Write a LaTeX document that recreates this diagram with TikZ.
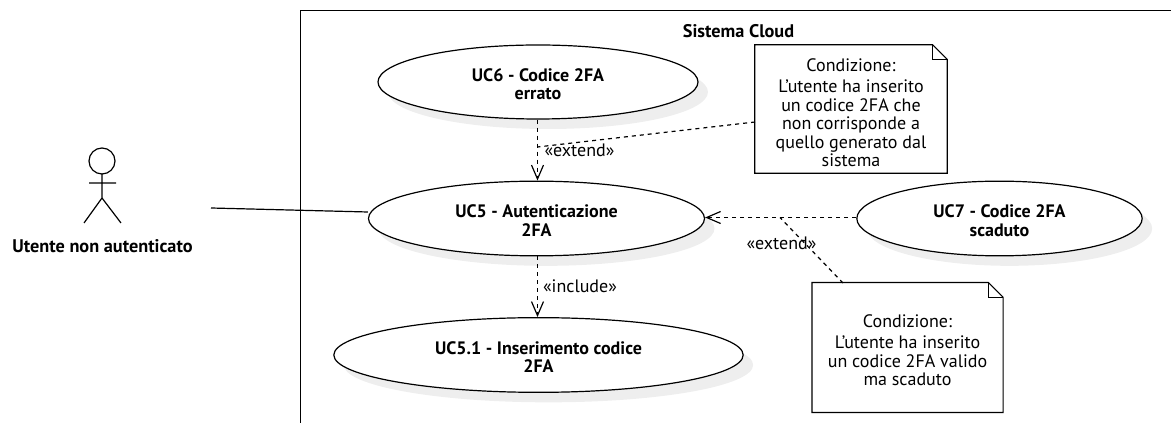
\documentclass[tikz,border=0pt]{standalone}
\usepackage{fontspec}
\setmainfont{PT Sans}
\usetikzlibrary{arrows.meta,shapes.geometric,shadows}
\definecolor{shadowgray}{HTML}{EEEEEE}
\newcommand{\ucstrut}{\rule{0pt}{13pt}}
\tikzset{
  ink/.style={line width=0.9pt,draw=black},
  usecase/.style={ink,ellipse,fill=white,inner sep=0pt,align=center,font=\fontsize{13.5}{13.9}\selectfont\bfseries,
    drop shadow={shadow xshift=7.5pt,shadow yshift=-7.5pt,fill=shadowgray,opacity=1}},
  notebox/.style={rectangle,inner sep=0pt,align=center,font=\fontsize{13.5}{13.9}\selectfont},
  dep/.style={line width=0.9pt,dash pattern=on 3pt off 3pt,-{Straight Barb[length=10.5pt,width=9pt]}},
  anchorline/.style={line width=0.9pt,dash pattern=on 3pt off 3pt},
  lbl/.style={font=\fontsize{13.5}{13.9}\selectfont,inner sep=0pt},
  bold/.style={font=\fontsize{13.7}{13.9}\selectfont\bfseries,inner sep=0pt,align=center}
}
\begin{document}
\begin{tikzpicture}[x=0.75pt,y=-0.75pt]
\useasboundingbox (0,0) rectangle (1171,423);
% system frame
\coordinate (fbl) at (300.5,423);
\coordinate (ftl) at (300.5,10.5);
\coordinate (ftr) at (1171,10.5);
\draw[ink] (fbl) -- (ftl) -- (ftr);
\node[bold] (title) at (738.5,31) {Sistema Cloud};
% use cases
\node[usecase,minimum width=240pt,minimum height=55.5pt] (uc6) at (538,82) {\ucstrut UC6 - Codice 2FA\\errato};
\node[usecase,minimum width=252pt,minimum height=56pt] (uc5) at (536.5,218.5) {\ucstrut UC5 - Autenticazione\\2FA};
\node[usecase,minimum width=307pt,minimum height=56pt] (uc51) at (538.5,355) {\ucstrut UC5.1 - Inserimento codice\\2FA};
\node[usecase,minimum width=214pt,minimum height=56pt] (uc7) at (999.5,218.5) {\ucstrut UC7 - Codice 2FA\\scaduto};
% notes
\node[notebox,minimum width=144pt,minimum height=96pt] (n1) at (851,109) {};
\node[notebox,minimum width=143pt,minimum height=97pt] (n2) at (907.5,347.5) {};
\draw[ink,fill=white] (n1.south west) -- (n1.north west) -- ([xshift=-11pt]n1.north east) -- ([yshift=-11pt]n1.north east) -- (n1.south east) -- cycle;
\draw[ink] ([xshift=-11pt]n1.north east) -- ([xshift=-11pt,yshift=-11pt]n1.north east) -- ([yshift=-11pt]n1.north east);
\draw[ink,fill=white] (n2.south west) -- (n2.north west) -- ([xshift=-11pt]n2.north east) -- ([yshift=-11pt]n2.north east) -- (n2.south east) -- cycle;
\draw[ink] ([xshift=-11pt]n2.north east) -- ([xshift=-11pt,yshift=-11pt]n2.north east) -- ([yshift=-11pt]n2.north east);
\node[notebox] (n1t) at (851,113) {Condizione:\\[1.5pt]L'utente ha inserito\\un codice 2FA che\\non corrisponde a\\quello generato dal\\sistema};
\node[notebox] (n2t) at (907.5,350.5) {Condizione:\\[1.5pt]L'utente ha inserito\\un codice 2FA valido\\ma scaduto};
% actor
\coordinate (ahead) at (102,161);
\coordinate (aneck) at (102,174);
\coordinate (ahip) at (102,198);
\coordinate (aarmL) at (89,183);
\coordinate (aarmR) at (116,183);
\coordinate (alegL) at (84,223);
\coordinate (alegR) at (121,223);
\draw[ink] (ahead) circle (9.75pt);
\draw[ink] (aneck) -- (ahip) -- (alegL) (ahip) -- (alegR) (aarmL) -- (aarmR);
\node[bold] (actor) at (102.5,246) {Utente non autenticato};
% connectors
\coordinate (assocStart) at (211,208);
\draw[ink] (assocStart) -- (uc5.west |- 0,212);
\coordinate (midv) at (537.5,147);
\coordinate (midh) at (780,217.5);
\draw[dep] (uc6.south -| midv) -- (uc5.north -| midv);
\draw[dep] (uc5.south -| midv) -- (uc51.north -| midv);
\draw[dep] (uc7.west |- midh) -- (uc5.east |- midh);
\coordinate (n1a) at (755,122);
\coordinate (n2a) at (843,283);
\draw[anchorline] (n1a) -- (midv);
\draw[anchorline] (n2a) -- (midh);
\node[lbl] (l1) at (579.5,150) {«extend»};
\node[lbl] (l2) at (580,286) {«include»};
\node[lbl] (l3) at (781.5,243) {«extend»};
\end{tikzpicture}
\end{document}
